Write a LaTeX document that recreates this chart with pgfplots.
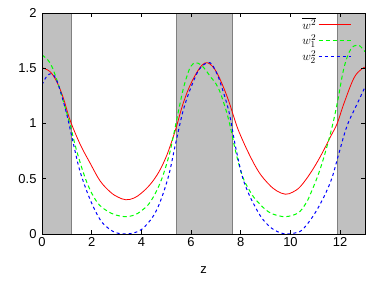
\documentclass[border=0pt]{standalone}
\usepackage{fontspec}
\setmainfont{Liberation Sans}
\usepackage{pgfplots}
\pgfplotsset{compat=1.18}
\definecolor{bandfill}{RGB}{192,192,192}
\definecolor{bandedge}{RGB}{128,128,128}
\newcommand{\lstrut}{\rule[-4bp]{0pt}{13.5bp}}
\begin{document}
\begin{tikzpicture}
\begin{axis}[
  scale only axis, width=323bp, height=221bp,
  xmin=0, xmax=13, ymin=0, ymax=2,
  xtick={0,2,...,12}, ytick={0,0.5,...,2},
  tick pos=both, tick align=inside, major tick length=4bp,
  axis on top, axis line style={line width=0.8bp},
  every tick/.style={black, line width=0.6bp},
  /pgf/number format/assume math mode=true,
  tick label style={font=\fontsize{13}{15}\selectfont},
  yticklabel style={xshift=-2bp},
  xlabel={z}, xlabel style={font=\fontsize{13}{15}\selectfont, yshift=-13bp},
  legend plot pos=right,
  legend cell align=right,
  legend image code/.code={\draw[#1] (0bp,0bp) -- (32bp,0bp);},
  legend style={at={(axis cs:12.45,1.975)}, anchor=north east, draw=none, fill=none,
    font=\fontsize{12.5}{13}\selectfont, row sep=0pt, inner sep=0pt},
]
\addplot[fill=bandfill, draw=bandedge, line width=0.8bp, forget plot] coordinates {(0,0) (0,2) (1.17,2) (1.17,0)} -- cycle;
\addplot[fill=bandfill, draw=bandedge, line width=0.8bp, forget plot] coordinates {(5.41,0) (5.41,2) (7.66,2) (7.66,0)} -- cycle;
\addplot[fill=bandfill, draw=bandedge, line width=0.8bp, forget plot] coordinates {(11.9,0) (11.9,2) (13,2) (13,0)} -- cycle;

\addplot[red, line width=0.8bp, smooth, tension=0.6] coordinates {
(0,1.505) (0.32,1.47) (0.59,1.38) (0.86,1.23) (1.13,1.03) (1.54,0.81) (1.94,0.64)
(2.34,0.48) (2.75,0.38) (3.05,0.335) (3.37,0.31) (3.7,0.325) (4.0,0.37) (4.36,0.45)
(4.7,0.56) (5.0,0.70) (5.24,0.85) (5.41,0.97) (5.65,1.16) (5.91,1.32) (6.2,1.45)
(6.45,1.53) (6.65,1.55) (6.85,1.52) (7.06,1.45) (7.3,1.33) (7.52,1.20) (7.72,1.06)
(7.92,0.93) (8.32,0.73) (8.73,0.56) (9.13,0.45) (9.45,0.39) (9.8,0.36) (10.1,0.38)
(10.4,0.43) (10.8,0.55) (11.2,0.70) (11.61,0.88) (11.88,1.0) (12.15,1.18)
(12.55,1.41) (12.85,1.49) (13,1.51)};
\addlegendentry{\lstrut$\overline{w^2}$}

\addplot[green, line width=1bp, dash pattern=on 4bp off 3bp, smooth, tension=0.6] coordinates {
(0,1.62) (0.32,1.55) (0.59,1.40) (0.86,1.20) (1.13,0.99) (1.4,0.75) (1.8,0.47)
(2.21,0.29) (2.61,0.21) (3.0,0.17) (3.35,0.157) (3.7,0.17) (4.0,0.21) (4.36,0.29)
(4.77,0.47) (5.1,0.70) (5.3,0.90) (5.64,1.27) (5.85,1.44) (6.0,1.52) (6.18,1.55)
(6.4,1.53) (6.6,1.48) (6.79,1.42) (7.0,1.36) (7.19,1.27) (7.46,1.08) (7.58,0.97)
(7.78,0.76) (8.0,0.57) (8.19,0.46) (8.5,0.34) (8.73,0.28) (9.0,0.22) (9.3,0.18)
(9.8,0.157) (10.3,0.19) (10.6,0.27) (10.8,0.36) (11.2,0.59) (11.61,0.91)
(11.88,1.18) (12.15,1.50) (12.42,1.67) (12.69,1.71) (12.85,1.69) (13,1.65)};
\addlegendentry{\lstrut$w_1^2$}

\addplot[blue, line width=1bp, dash pattern=on 3bp off 3bp, smooth, tension=0.6] coordinates {
(0,1.35) (0.2,1.43) (0.39,1.45) (0.55,1.41) (0.73,1.30) (1.0,1.08) (1.27,0.81)
(1.54,0.56) (1.94,0.31) (2.34,0.13) (2.68,0.05) (3.0,0.01) (3.35,0.0) (3.7,0.01)
(4.0,0.04) (4.23,0.09) (4.5,0.17) (4.77,0.30) (5.1,0.53) (5.37,0.81) (5.71,1.14)
(6.11,1.39) (6.4,1.51) (6.76,1.55) (7.0,1.47) (7.19,1.36) (7.52,1.11) (7.78,0.80)
(8.05,0.53) (8.27,0.39) (8.5,0.28) (8.8,0.16) (9.1,0.08) (9.4,0.03) (9.8,0.0)
(10.2,0.01) (10.53,0.05) (11.07,0.22) (11.61,0.47) (11.95,0.73) (12.28,0.98)
(12.69,1.18) (13,1.33)};
\addlegendentry{\lstrut$w_2^2$}
\end{axis}
\path ([shift={(-42bp,-48bp)}]current axis.south west) rectangle ([shift={(9bp,13bp)}]current axis.north east);
\end{tikzpicture}
\end{document}
